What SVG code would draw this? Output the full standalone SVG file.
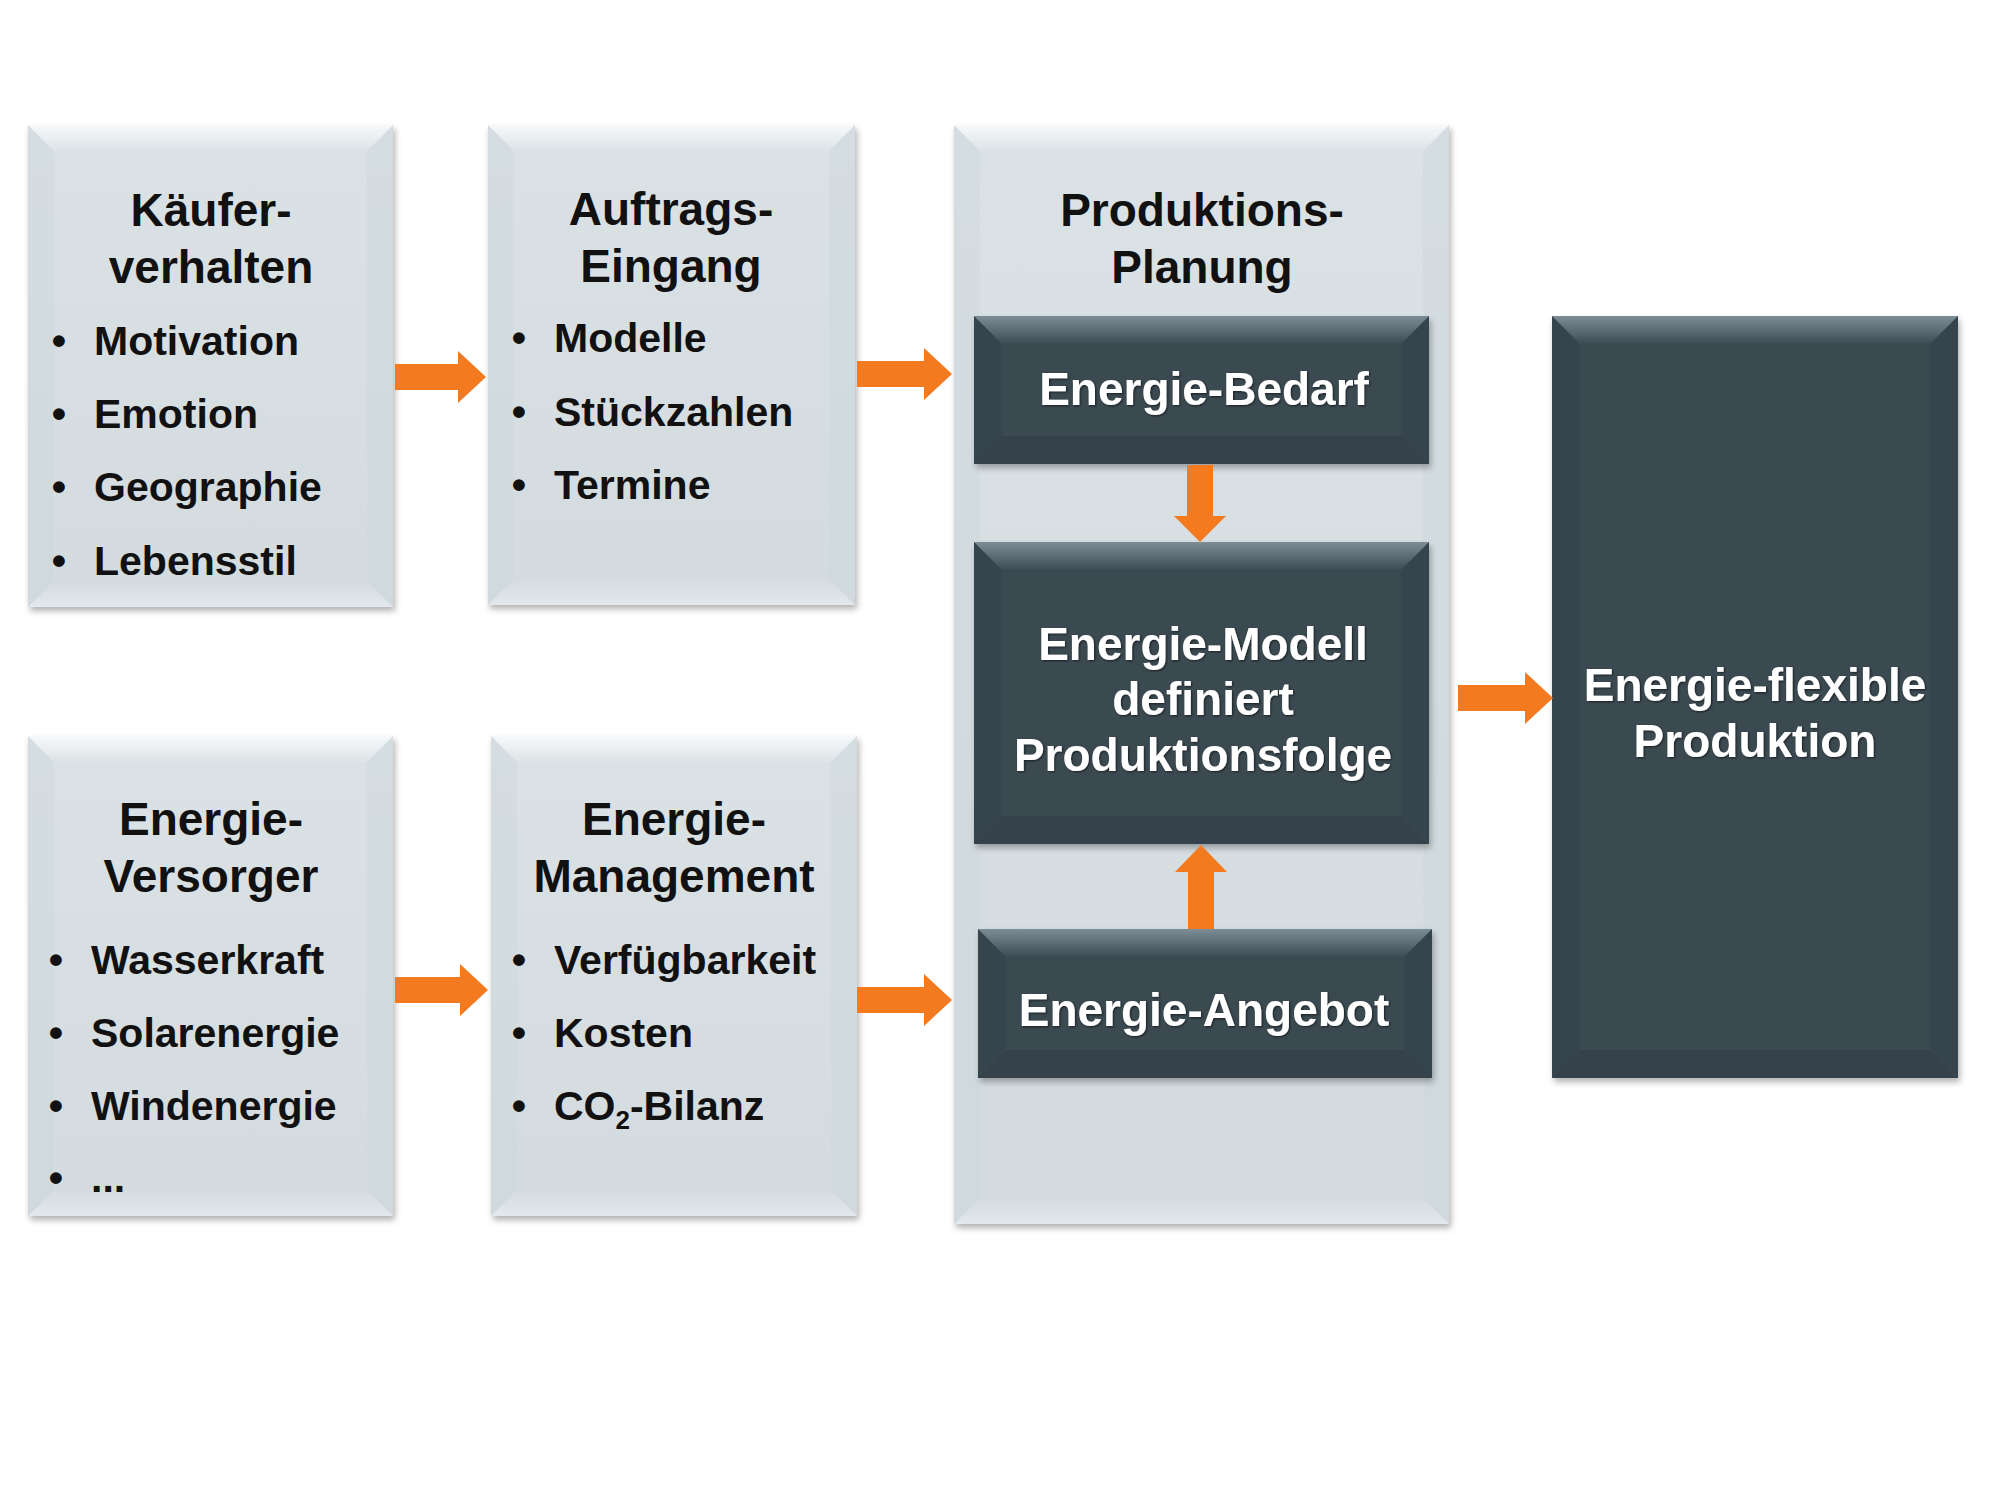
<svg xmlns="http://www.w3.org/2000/svg" width="2000" height="1500" viewBox="0 0 2000 1500">
<defs>
<style>
text{font-family:"Liberation Sans",Arial,sans-serif;font-weight:bold}
.ttl{font-size:46px;fill:#111;text-anchor:middle}
.itm{font-size:41px;fill:#111}
.bul{font-size:41px;fill:#111;text-anchor:middle}
.wt{font-size:46px;fill:#fff;text-anchor:middle;filter:url(#tsh)}
.lb{fill:url(#lightBase);filter:url(#sh)}
.db{fill:#3a4851;filter:url(#sh)}
.ltop{fill:url(#lightTop)}
.lside{fill:#cdd6db;opacity:.45}
.lbot{fill:url(#lightBot)}
.dtop{fill:url(#darkTop)}
.dside{fill:#36444d}
.dbot{fill:#35424b}
.arr{fill:#f47a20}
</style>
<linearGradient id="lightBase" x1="0" y1="0" x2="0" y2="1">
<stop offset="0" stop-color="#dbe2e5"/>
<stop offset="1" stop-color="#d3dbdf"/>
</linearGradient>
<linearGradient id="lightTop" x1="0" y1="0" x2="0" y2="1">
<stop offset="0" stop-color="#f7f9fa"/>
<stop offset="1" stop-color="#dce3e6"/>
</linearGradient>
<linearGradient id="lightBot" x1="0" y1="0" x2="0" y2="1">
<stop offset="0" stop-color="#d4dce0"/>
<stop offset="1" stop-color="#e2e8eb"/>
</linearGradient>
<linearGradient id="darkTop" x1="0" y1="0" x2="0" y2="1">
<stop offset="0" stop-color="#7d8d95"/>
<stop offset="1" stop-color="#3d4b54"/>
</linearGradient>
<filter id="sh" x="-10%" y="-10%" width="120%" height="120%">
<feDropShadow dx="2" dy="4" stdDeviation="3" flood-color="#000" flood-opacity="0.3"/>
</filter>
<filter id="tsh" x="-10%" y="-30%" width="120%" height="160%">
<feDropShadow dx="1" dy="1" stdDeviation="1" flood-color="#000" flood-opacity="0.6"/>
</filter>
</defs>
<rect width="2000" height="1500" fill="#fff"/>

<g id="kaeuferverhalten">
<rect class="lb" x="28" y="125" width="365" height="482"/>
<polygon class="lside" points="28,125 54,151 54,581 28,607"/>
<polygon class="lside" points="393,125 367,151 367,581 393,607"/>
<polygon class="lbot" points="28,607 54,581 367,581 393,607"/>
<polygon class="ltop" points="28,125 393,125 367,151 54,151"/>
<text class="ttl" x="211" y="226">Käufer-</text>
<text class="ttl" x="211" y="283">verhalten</text>
<text class="bul" x="59" y="355">•</text><text class="itm" x="94" y="355">Motivation</text>
<text class="bul" x="59" y="428">•</text><text class="itm" x="94" y="428">Emotion</text>
<text class="bul" x="59" y="501">•</text><text class="itm" x="94" y="501">Geographie</text>
<text class="bul" x="59" y="575">•</text><text class="itm" x="94" y="575">Lebensstil</text>
</g>

<g id="auftragseingang">
<rect class="lb" x="488" y="125" width="367" height="480"/>
<polygon class="lside" points="488,125 514,151 514,579 488,605"/>
<polygon class="lside" points="855,125 829,151 829,579 855,605"/>
<polygon class="lbot" points="488,605 514,579 829,579 855,605"/>
<polygon class="ltop" points="488,125 855,125 829,151 514,151"/>
<text class="ttl" x="671" y="225">Auftrags-</text>
<text class="ttl" x="671" y="282">Eingang</text>
<text class="bul" x="519" y="352">•</text><text class="itm" x="554" y="352">Modelle</text>
<text class="bul" x="519" y="426">•</text><text class="itm" x="554" y="426">Stückzahlen</text>
<text class="bul" x="519" y="499">•</text><text class="itm" x="554" y="499">Termine</text>
</g>

<g id="energieversorger">
<rect class="lb" x="28" y="736" width="365" height="480"/>
<polygon class="lside" points="28,736 54,762 54,1190 28,1216"/>
<polygon class="lside" points="393,736 367,762 367,1190 393,1216"/>
<polygon class="lbot" points="28,1216 54,1190 367,1190 393,1216"/>
<polygon class="ltop" points="28,736 393,736 367,762 54,762"/>
<text class="ttl" x="211" y="835">Energie-</text>
<text class="ttl" x="211" y="892">Versorger</text>
<text class="bul" x="56" y="974">•</text><text class="itm" x="91" y="974">Wasserkraft</text>
<text class="bul" x="56" y="1047">•</text><text class="itm" x="91" y="1047">Solarenergie</text>
<text class="bul" x="56" y="1120">•</text><text class="itm" x="91" y="1120">Windenergie</text>
<text class="bul" x="56" y="1192">•</text><text class="itm" x="91" y="1192">...</text>
</g>

<g id="energiemanagement">
<rect class="lb" x="491" y="736" width="366" height="480"/>
<polygon class="lside" points="491,736 517,762 517,1190 491,1216"/>
<polygon class="lside" points="857,736 831,762 831,1190 857,1216"/>
<polygon class="lbot" points="491,1216 517,1190 831,1190 857,1216"/>
<polygon class="ltop" points="491,736 857,736 831,762 517,762"/>
<text class="ttl" x="674" y="835">Energie-</text>
<text class="ttl" x="674" y="892">Management</text>
<text class="bul" x="519" y="974">•</text><text class="itm" x="554" y="974">Verfügbarkeit</text>
<text class="bul" x="519" y="1047">•</text><text class="itm" x="554" y="1047">Kosten</text>
<text class="bul" x="519" y="1120">•</text><text class="itm" x="554" y="1120">CO<tspan font-size="26" dy="9">2</tspan><tspan dy="-9">-Bilanz</tspan></text>
</g>

<g id="produktionsplanung">
<rect class="lb" x="954" y="125" width="495" height="1099"/>
<polygon class="lside" points="954,125 980,151 980,1198 954,1224"/>
<polygon class="lside" points="1449,125 1423,151 1423,1198 1449,1224"/>
<polygon class="lbot" points="954,1224 980,1198 1423,1198 1449,1224"/>
<polygon class="ltop" points="954,125 1449,125 1423,151 980,151"/>
<text class="ttl" x="1202" y="226">Produktions-</text>
<text class="ttl" x="1202" y="283">Planung</text>
</g>

<g id="energiebedarf">
<rect class="db" x="974" y="316" width="455" height="148"/>
<polygon class="dside" points="974,316 1002,344 1002,436 974,464"/>
<polygon class="dside" points="1429,316 1401,344 1401,436 1429,464"/>
<polygon class="dbot" points="974,464 1002,436 1401,436 1429,464"/>
<polygon class="dtop" points="974,316 1429,316 1401,344 1002,344"/>
<text class="wt" x="1204" y="405">Energie-Bedarf</text>
</g>

<g id="energiemodell">
<rect class="db" x="974" y="542" width="455" height="302"/>
<polygon class="dside" points="974,542 1002,570 1002,816 974,844"/>
<polygon class="dside" points="1429,542 1401,570 1401,816 1429,844"/>
<polygon class="dbot" points="974,844 1002,816 1401,816 1429,844"/>
<polygon class="dtop" points="974,542 1429,542 1401,570 1002,570"/>
<text class="wt" x="1203" y="660">Energie-Modell</text>
<text class="wt" x="1203" y="715">definiert</text>
<text class="wt" x="1203" y="771">Produktionsfolge</text>
</g>

<g id="energieangebot">
<rect class="db" x="978" y="929" width="454" height="149"/>
<polygon class="dside" points="978,929 1006,957 1006,1050 978,1078"/>
<polygon class="dside" points="1432,929 1404,957 1404,1050 1432,1078"/>
<polygon class="dbot" points="978,1078 1006,1050 1404,1050 1432,1078"/>
<polygon class="dtop" points="978,929 1432,929 1404,957 1006,957"/>
<text class="wt" x="1204" y="1026">Energie-Angebot</text>
</g>

<g id="energieflexibleproduktion">
<rect class="db" x="1552" y="316" width="406" height="762"/>
<polygon class="dside" points="1552,316 1580,344 1580,1050 1552,1078"/>
<polygon class="dside" points="1958,316 1930,344 1930,1050 1958,1078"/>
<polygon class="dbot" points="1552,1078 1580,1050 1930,1050 1958,1078"/>
<polygon class="dtop" points="1552,316 1958,316 1930,344 1580,344"/>
<text class="wt" x="1755" y="701">Energie-flexible</text>
<text class="wt" x="1755" y="757">Produktion</text>
</g>

<g id="connectors">
<polygon class="arr" points="395,364 458,364 458,351 486,377 458,403 458,390 395,390"/>
<polygon class="arr" points="857,361 924,361 924,348 952,374 924,400 924,387 857,387"/>
<polygon class="arr" points="395,977 460,977 460,964 488,990 460,1016 460,1003 395,1003"/>
<polygon class="arr" points="857,987 924,987 924,974 952,1000 924,1026 924,1013 857,1013"/>
<polygon class="arr" points="1458,685 1525,685 1525,672 1553,698 1525,724 1525,711 1458,711"/>
<polygon class="arr" points="1187,465 1213,465 1213,516 1226,516 1200,542 1174,516 1187,516"/>
<polygon class="arr" points="1188,929 1214,929 1214,872 1227,872 1201,845 1175,872 1188,872"/>
</g>
</svg>
